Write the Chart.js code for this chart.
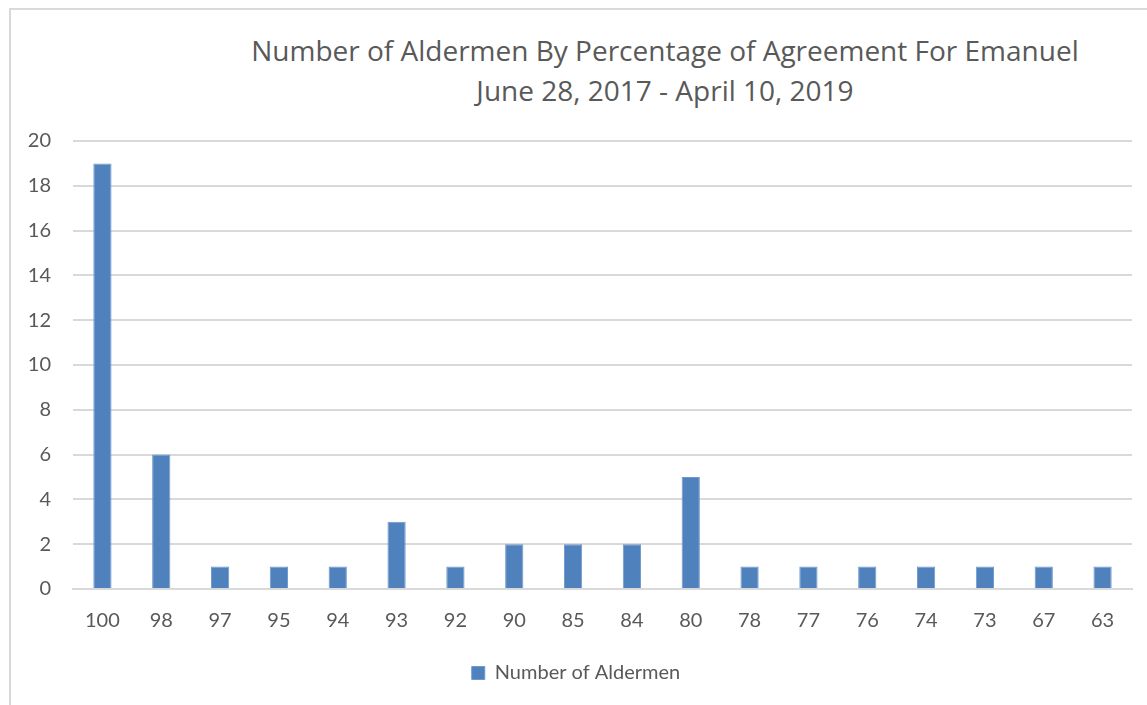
<!DOCTYPE html>
<html>
<head>
<meta charset="utf-8">
<script src="https://cdn.jsdelivr.net/npm/chart.js@4"></script>
<style>
  body { margin: 0; background: #fff; }
  #wrap { position: relative; width: 1147px; height: 705px; overflow: hidden; }
  #frame { position: absolute; left: 9px; top: 8px; width: 1200px; height: 800px;
           border-left: 2px solid #d9d9d9; border-top: 2px solid #d9d9d9; }
  #title { position: absolute; left: 165px; width: 1000px; top: 30px; text-align: center;
           font-family: "Open Sans", Lato, sans-serif; font-weight: 400; font-size: 28px; color: #595959; line-height: 40px;
           white-space: nowrap; }
  canvas { position: absolute; left: 0; top: 0; }
</style>
</head>
<body>
<div id="wrap">
  <div id="frame"></div>
  <div id="title">Number of Aldermen By Percentage of Agreement For Emanuel<br>June 28, 2017 - April 10, 2019</div>
  <canvas id="myChart" width="1147" height="705"></canvas>
</div>
<script>
// Aldermen count by agreement percentage
const labels = ["100", "98", "97", "95", "94", "93", "92", "90", "85", "84", "80", "78", "77", "76", "74", "73", "67", "63"];
const aldermen = [19, 6, 1, 1, 1, 3, 1, 2, 2, 2, 5, 1, 1, 1, 1, 1, 1, 1];

const font = "Lato, 'Open Sans', sans-serif";

new Chart(document.getElementById("myChart"), {
  type: "bar",
  data: {
    labels: labels,
    datasets: [{
      label: "Number of Aldermen",
      data: aldermen,
      backgroundColor: '#4f81bd',
      borderColor: '#6f98cb',
      borderWidth: 1,
      barPercentage: 0.31,
      categoryPercentage: 1
    }]
  },
  options: {
    responsive: false,
    animation: false,
    layout: { padding: { left: 20, right: 15, top: 141, bottom: 12 } },
    plugins: {
      legend: {
        position: 'bottom',
        labels: { boxWidth: 13, boxHeight: 13, padding: 18, color: '#595959',
                  font: { family: font, size: 20 } }
      },
      tooltip: { enabled: false }
    },
    scales: {
      x: {
        grid: { display: false },
        border: { color: '#d9d9d9', width: 2 },
        ticks: { color: '#595959', padding: 12, font: { family: font, size: 20 } }
      },
      y: {
        min: 0,
        max: 20,
        afterFit: function(axis) { axis.width = 53; },
        grid: { color: '#d9d9d9', lineWidth: 2, drawTicks: false },
        border: { display: false },
        ticks: { stepSize: 2, color: '#595959', padding: 22, font: { family: font, size: 20 } }
      }
    }
  }
});
</script>
</body>
</html>
